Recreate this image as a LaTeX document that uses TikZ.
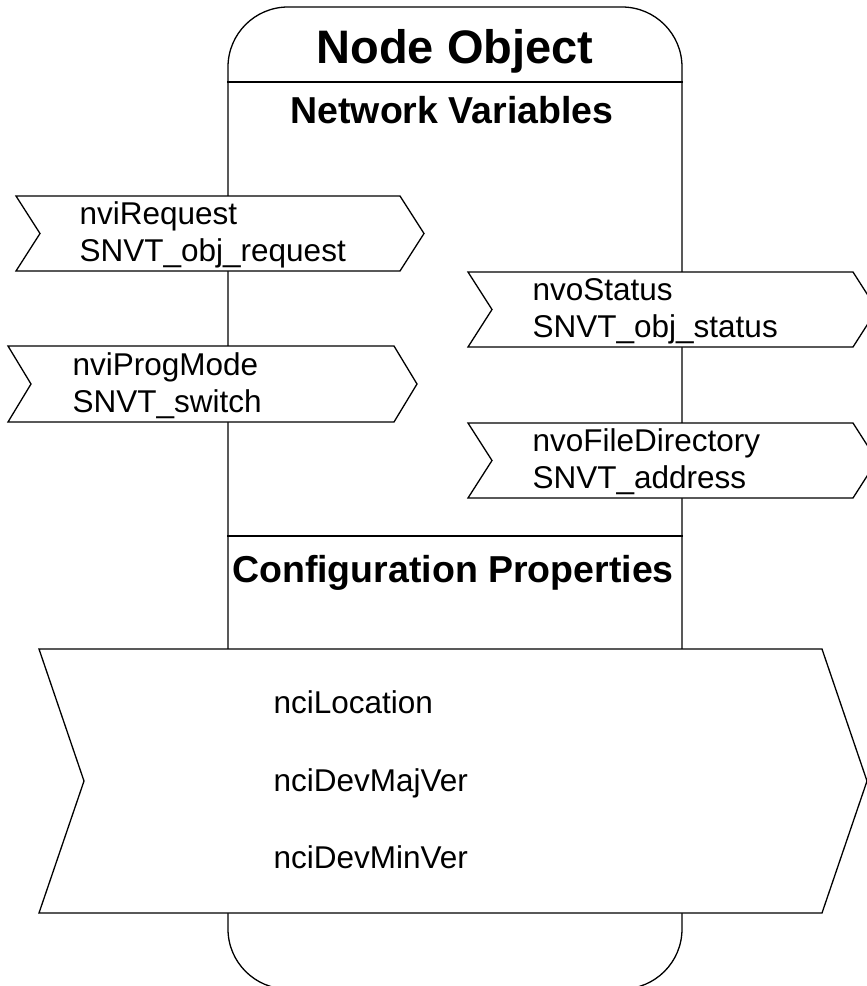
\documentclass[tikz,border=0pt]{standalone}
\usepackage{fontspec}
\setmainfont{Liberation Sans}
\usetikzlibrary{positioning}

% chevron: left x, top y, width, height, notch depth
\newcommand{\nvchevron}[5]{%
  \draw[chevshape] (#1,#2) -- ++(#3,0) -- ++(#5,#4/2) -- ++(-#5,#4/2)
    -- ++(-#3,0) -- ++(#5,-#4/2) -- cycle;}

\begin{document}
\begin{tikzpicture}[x=1pt, y=-1pt, line width=1.3pt, line join=miter,
    object/.style={draw, rounded corners=60pt, minimum width=454pt,
      minimum height=982pt, inner sep=0pt},
    objtitle/.style={font=\fontsize{47}{56}\selectfont\bfseries, anchor=base},
    section/.style={font=\fontsize{37.5}{45}\selectfont\bfseries, anchor=base},
    nvlabel/.style={font=\fontsize{31.5}{37}\selectfont, align=left,
      anchor=west, inner sep=0pt},
    cplabel/.style={font=\fontsize{31.5}{37}\selectfont, anchor=base west,
      inner sep=0pt},
    chevshape/.style={draw=black, fill=white}]

  \useasboundingbox (0,0) rectangle (867,986);

  % object body
  \node[object] (obj) at (455,498) {};
  \coordinate (nvtop) at (0,82);
  \coordinate (cptop) at (0,536);
  \draw (obj.west |- nvtop) -- (obj.east |- nvtop);
  \draw (obj.west |- cptop) -- (obj.east |- cptop);

  \node[objtitle] (title) at (455,63) {Node Object};
  \node[section] (nvhead) at (452,123) {Network Variables};
  \node[section] (cphead) at (453,582) {Configuration Properties};

  % inputs
  \nvchevron{16}{196}{384}{75}{24}
  \node[nvlabel] (nviRequest) at (79,235) {nviRequest\\SNVT\_obj\_request};
  \nvchevron{8}{346}{386}{76}{23}
  \node[nvlabel] (nviProgMode) at (72,386) {nviProgMode\\SNVT\_switch};

  % outputs
  \nvchevron{468}{272}{385}{75}{24}
  \node[nvlabel] (nvoStatus) at (532,311) {nvoStatus\\SNVT\_obj\_status};
  \nvchevron{468}{423}{385}{75}{24}
  \node[nvlabel] (nvoFileDirectory) at (532,462) {nvoFileDirectory\\SNVT\_address};

  % configuration properties
  \nvchevron{39}{649}{783}{264}{45}
  \node[cplabel] (nciLocation) at (273,713) {nciLocation};
  \node[cplabel] (nciDevMajVer) at (273,791) {nciDevMajVer};
  \node[cplabel] (nciDevMinVer) at (273,868) {nciDevMinVer};
\end{tikzpicture}
\end{document}
